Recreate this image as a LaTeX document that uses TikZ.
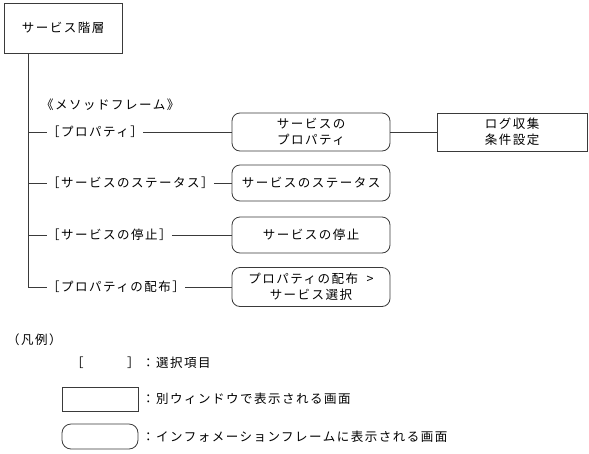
\documentclass[tikz,border=0pt]{standalone}
\usepackage{fontspec}
\newfontfamily\jp[LetterSpace=12]{Noto Sans CJK JP}
\usetikzlibrary{positioning}
\definecolor{cLine}{HTML}{3A3A3A}
\definecolor{cInk}{HTML}{000000}

\begin{document}
\begin{tikzpicture}[x=1pt, y=-1pt,
    every node/.style={font=\jp\fontsize{12.5}{16}\selectfont, text=cInk},
    wnd/.style={draw=cLine, line width=0.8pt, minimum width=150pt,
      minimum height=38pt, align=center, inner sep=0pt},
    info/.style={draw=cLine, line width=0.8pt, rounded corners=8pt,
      minimum width=158pt, align=center, inner sep=0pt},
    sel/.style={inner sep=0pt, anchor=west},
    lnk/.style={draw=cLine, line width=0.8pt}]
    \useasboundingbox (0,0) rectangle (589,453);

    % --- root + method frame label -----------------------------------
    \node[wnd, minimum width=118pt, minimum height=50pt] (top) at (63,28) {サービス階層};
    \node[sel] (meth) at (41,105) {《メソッドフレーム》};

    % --- branches: selection item -> info frame ----------------------
    \foreach \i/\y/\s/\t/\h in {%
        1/132/{［プロパティ］}/{サービスの\\プロパティ}/38,
        2/183/{［サービスのステータス］}/{サービスのステータス}/36,
        3/235/{［サービスの停止］}/{サービスの停止}/36,
        4/287/{［プロパティの配布］}/{プロパティの配布\ \ >\\サービス選択}/39}
    {
      \coordinate (j\i) at (28,\y);
      \node[sel] (sel\i) at (47,\y) {\s};
      \node[info, minimum height=\h pt] (info\i) at (311,\y) {\t};
      \draw[lnk] (j\i) -- (sel\i.west);
      \draw[lnk] (sel\i.east) -- (info\i.west);
    }
    \draw[lnk] (top.south -| j4) -- (j4);

    % --- separate window ---------------------------------------------
    \node[wnd] (log) at (512,132) {ログ収集\\条件設定};
    \draw[lnk] (info1.east) -- (log.west);

    % --- legend --------------------------------------------------------
    \node[sel] (legend) at (7,340) {（凡例）};
    \node[sel] (kSel) at (71,363) {［　　　］};
    \node[wnd, minimum width=76pt, minimum height=24pt] (kWnd) at (100,399) {};
    \node[info, minimum width=76pt, minimum height=25pt, rounded corners=9pt] (kInfo) at (100,436.5) {};
    \node[sel] (tSel) at (142,363) {：選択項目};
    \node[sel] (tWnd) at (142,399) {：別ウィンドウで表示される画面};
    \node[sel] (tInfo) at (142,436.5) {：インフォメーションフレームに表示される画面};
  \end{tikzpicture}
\end{document}
